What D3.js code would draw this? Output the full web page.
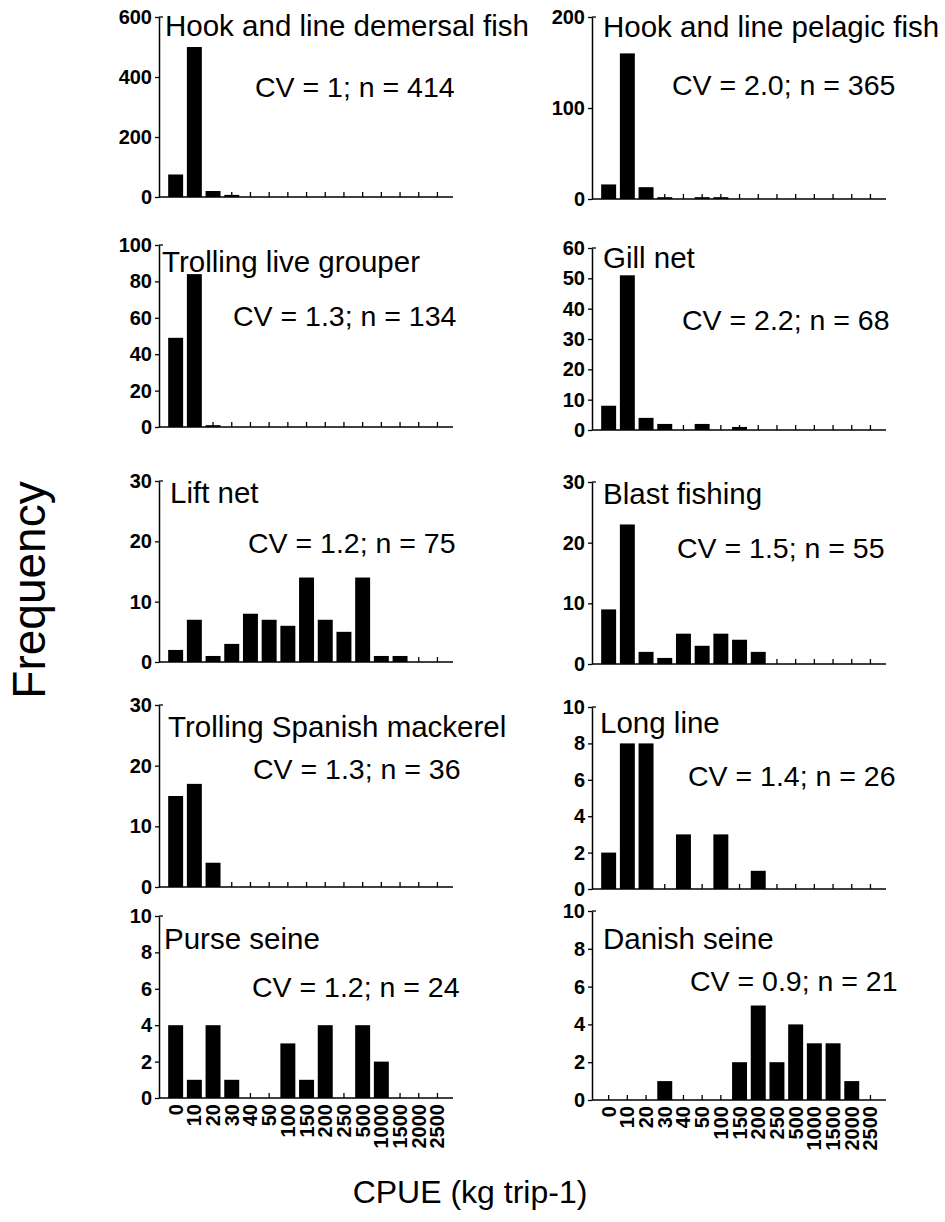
<!DOCTYPE html>
<html>
<head>
<meta charset="utf-8">
<script src="https://cdn.jsdelivr.net/npm/d3@7"></script>
<style>
  body { margin: 0; background: #fff; }
  svg { font-family: "Liberation Sans", Arial, sans-serif; }
</style>
</head>
<body>
<svg id="chart" width="945" height="1222"></svg>
<script>
// CPUE classes (kg trip-1)
var categories = ["0","10","20","30","40","50","100","150","200","250","500","1000","1500","2000","2500"];

var demersal  = [75, 500, 20, 7, 0, 0, 0, 0, 0, 0, 0, 0, 0, 0, 0];
var pelagic   = [16, 160, 13, 2, 0, 2, 2, 0, 0, 0, 0, 0, 0, 0, 0];
var grouper   = [49, 84, 1, 0, 0, 0, 0, 0, 0, 0, 0, 0, 0, 0, 0];
var gillNet   = [8, 51, 4, 2, 0, 2, 0, 1, 0, 0, 0, 0, 0, 0, 0];
var liftNet   = [2, 7, 1, 3, 8, 7, 6, 14, 7, 5, 14, 1, 1, 0, 0];
var blast     = [9, 23, 2, 1, 5, 3, 5, 4, 2, 0, 0, 0, 0, 0, 0];
var mackerel  = [15, 17, 4, 0, 0, 0, 0, 0, 0, 0, 0, 0, 0, 0, 0];
var longLine  = [2, 8, 8, 0, 3, 0, 3, 0, 1, 0, 0, 0, 0, 0, 0];
var purse     = [4, 1, 4, 1, 0, 0, 3, 1, 4, 0, 4, 2, 0, 0, 0];
var danish    = [0, 0, 0, 1, 0, 0, 0, 2, 5, 2, 4, 3, 3, 1, 0];

var titles = ["Hook and line demersal fish","Hook and line pelagic fish","Trolling live grouper","Gill net",
              "Lift net","Blast fishing","Trolling Spanish mackerel","Long line","Purse seine","Danish seine"];
var stats  = ["CV = 1; n = 414","CV = 2.0; n = 365","CV = 1.3; n = 134","CV = 2.2; n = 68",
              "CV = 1.2; n = 75","CV = 1.5; n = 55","CV = 1.3; n = 36","CV = 1.4; n = 26",
              "CV = 1.2; n = 24","CV = 0.9; n = 21"];
var yMax   = [600, 200, 100, 60, 30, 30, 30, 10, 10, 10];
var yTicks = [[0,200,400,600],[0,100,200],[0,20,40,60,80,100],[0,10,20,30,40,50,60],
              [0,10,20,30],[0,10,20,30],[0,10,20,30],[0,2,4,6,8,10],[0,2,4,6,8,10],[0,2,4,6,8,10]];
var series = [demersal, pelagic, grouper, gillNet, liftNet, blast, mackerel, longLine, purse, danish];

// layout of each panel: axis origin x, top, bottom, title pos, CV pos
var layout = [
  {x0:159, top:17,  bottom:197,  tx:165, ty:36,  cx:255, cy:97},
  {x0:592, top:17,  bottom:199,  tx:603, ty:37,  cx:672, cy:95},
  {x0:159, top:245, bottom:427,  tx:162, ty:272, cx:233, cy:326},
  {x0:592, top:248, bottom:430,  tx:603, ty:268, cx:682, cy:330},
  {x0:159, top:481, bottom:662,  tx:170, ty:503, cx:248, cy:553},
  {x0:592, top:482, bottom:664,  tx:603, ty:504, cx:677, cy:558},
  {x0:159, top:705, bottom:887,  tx:168, ty:737, cx:253, cy:779},
  {x0:592, top:707, bottom:889,  tx:600, ty:733, cx:688, cy:786},
  {x0:159, top:916, bottom:1098, tx:164, ty:949, cx:252, cy:997},
  {x0:592, top:911, bottom:1100, tx:603, ty:949, cx:690, cy:991}
];

var svg = d3.select("#chart");
var step = 18.7;

series.forEach(function(values, i){
	var L = layout[i];
	var g = svg.append("g");

	var x = d3.scaleBand()
		.domain(categories)
		.range([L.x0 + 7.3, L.x0 + 7.3 + categories.length * step])
		.paddingInner(0.2)
		.paddingOuter(0.1);
	var y = d3.scaleLinear().domain([0, yMax[i]]).range([L.bottom, L.top]);

	//y axis
	var ya = g.append("g")
		.attr("transform", "translate(" + L.x0 + ",0)")
		.call(d3.axisLeft(y).tickValues(yTicks[i]).tickSize(4).tickSizeOuter(0).tickPadding(3));
	ya.select(".domain").attr("stroke-width", 1.5);
	ya.selectAll(".tick line").attr("stroke-width", 1.3);
	ya.selectAll(".tick text")
		.attr("font-size", 20).attr("font-weight", "bold")
		.attr("font-family", "Liberation Sans, Arial, sans-serif");
	// small bracket at the top of the axis
	g.append("line")
		.attr("x1", L.x0).attr("x2", L.x0 + 4)
		.attr("y1", y(yMax[i])).attr("y2", y(yMax[i]))
		.attr("stroke", "#000").attr("stroke-width", 1.3);

	//x axis: ticks at class centres pointing up
	var xa = g.append("g")
		.attr("transform", "translate(0," + L.bottom + ")")
		.call(d3.axisBottom(x).tickSize(-5).tickSizeOuter(0));
	xa.select(".domain").remove();
	xa.selectAll(".tick line").attr("stroke-width", 1.3);
	xa.selectAll(".tick text").remove();
	g.append("line")
		.attr("x1", L.x0).attr("x2", L.x0 + 294)
		.attr("y1", L.bottom).attr("y2", L.bottom)
		.attr("stroke", "#000").attr("stroke-width", 1.5);

	// bars
	g.selectAll("rect.bar")
		.data(values.map(function(v, k){ return {cat: categories[k], v: v}; }))
		.enter().append("rect")
		.attr("class", "bar")
		.attr("x", function(d){ return x(d.cat); })
		.attr("width", x.bandwidth())
		.attr("y", function(d){ return y(d.v); })
		.attr("height", function(d){ return L.bottom - y(d.v); })
		.attr("fill", "#000");

	// class labels only under the bottom row
	if(i >= 8){
		g.selectAll("text.xl")
			.data(categories)
			.enter().append("text")
			.attr("class", "xl")
			.attr("transform", function(d){
				return "translate(" + (x(d) + x.bandwidth() / 2) + "," + (L.bottom + 6) + ") rotate(-90)";
			})
			.attr("dy", "0.35em")
			.attr("text-anchor", "end")
			.attr("font-size", 20).attr("font-weight", "bold")
			.text(function(d){ return d; });
	}

	g.append("text")
		.attr("x", L.tx).attr("y", L.ty)
		.attr("font-size", 29.5)
		.text(titles[i]);
	g.append("text")
		.attr("x", L.cx).attr("y", L.cy)
		.attr("font-size", 28.5)
		.text(stats[i]);
});

svg.append("text")
	.attr("transform", "translate(45,590) rotate(-90)")
	.attr("text-anchor", "middle")
	.attr("font-size", 46)
	.text("Frequency");

svg.append("text")
	.attr("x", 470).attr("y", 1203)
	.attr("text-anchor", "middle")
	.attr("font-size", 32)
	.text("CPUE (kg trip-1)");
</script>
</body>
</html>
